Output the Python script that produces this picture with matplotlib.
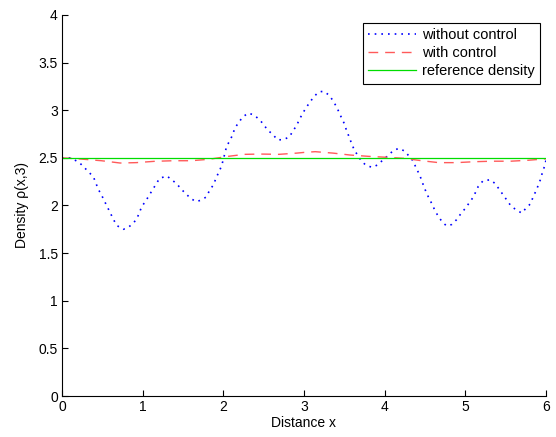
import numpy as np
import matplotlib
matplotlib.use('Agg')
import matplotlib.pyplot as plt

plt.rcParams['font.family'] = ['Liberation Sans', 'DejaVu Sans']

# density without control
x_free = [0.0, 0.1, 0.15, 0.2, 0.24, 0.31, 0.39, 0.45, 0.49, 0.53, 0.6, 0.64, 0.68,
          0.76, 0.82, 0.88, 0.93, 0.99, 1.04, 1.09, 1.17, 1.21, 1.3, 1.36, 1.42,
          1.48, 1.54, 1.6, 1.67, 1.73, 1.79, 1.83, 1.88, 1.91, 1.95, 1.98, 2.02,
          2.04, 2.08, 2.12, 2.14, 2.19, 2.24, 2.31, 2.38, 2.45, 2.5, 2.55, 2.61,
          2.67, 2.74, 2.82, 2.86, 2.91, 2.94, 2.98, 3.02, 3.07, 3.12, 3.18, 3.24,
          3.31, 3.36, 3.4, 3.44, 3.47, 3.5, 3.53, 3.56, 3.59, 3.62, 3.67, 3.71,
          3.77, 3.85, 3.92, 3.98, 4.05, 4.11, 4.18, 4.25, 4.31, 4.36, 4.39, 4.43,
          4.46, 4.49, 4.52, 4.55, 4.6, 4.62, 4.67, 4.72, 4.77, 4.83, 4.89, 4.95,
          5.0, 5.05, 5.1, 5.16, 5.22, 5.31, 5.37, 5.42, 5.47, 5.52, 5.57, 5.64,
          5.7, 5.75, 5.81, 5.84, 5.88, 5.93, 5.96, 5.99, 6.0]
rho_free = [2.5, 2.5, 2.48, 2.46, 2.43, 2.37, 2.3, 2.17, 2.11, 2.04, 1.92, 1.85, 1.79,
            1.75, 1.77, 1.81, 1.865, 1.99, 2.05, 2.12, 2.23, 2.285, 2.31, 2.27, 2.23,
            2.17, 2.12, 2.07, 2.04, 2.06, 2.09, 2.16, 2.22, 2.29, 2.36, 2.42, 2.55,
            2.62, 2.68, 2.75, 2.81, 2.87, 2.93, 2.97, 2.95, 2.9, 2.85, 2.79, 2.75,
            2.69, 2.69, 2.72, 2.78, 2.84, 2.9, 2.96, 3.02, 3.08, 3.14, 3.19, 3.2,
            3.16, 3.1, 3.04, 2.97, 2.91, 2.86, 2.78, 2.72, 2.65, 2.59, 2.52, 2.47,
            2.42, 2.4, 2.43, 2.48, 2.53, 2.58, 2.6, 2.57, 2.51, 2.46, 2.39, 2.33,
            2.26, 2.19, 2.13, 2.075, 1.995, 1.95, 1.88, 1.82, 1.785, 1.8, 1.85, 1.92,
            1.97, 2.03, 2.09, 2.2, 2.26, 2.27, 2.23, 2.17, 2.11, 2.05, 1.99, 1.95,
            1.92, 1.97, 2.02, 2.09, 2.16, 2.27, 2.36, 2.43, 2.48]

# density with control
x_ctrl = [0.0, 0.2, 0.49, 0.72, 0.92, 1.15, 1.38, 1.6, 1.82, 2.06, 2.26, 2.47, 2.69,
          2.91, 3.01, 3.14, 3.36, 3.57, 3.8, 4.03, 4.24, 4.46, 4.67, 4.89, 5.12,
          5.34, 5.56, 5.78, 6.0]
rho_ctrl = [2.5, 2.49, 2.47, 2.446, 2.45, 2.464, 2.47, 2.47, 2.485, 2.516, 2.537, 2.54,
            2.537, 2.55, 2.558, 2.565, 2.55, 2.53, 2.516, 2.506, 2.495, 2.47, 2.45,
            2.45, 2.46, 2.465, 2.465, 2.475, 2.49]

x_ref = [0.0, 6.0]
rho_ref = [2.5, 2.5]

fig = plt.figure(figsize=(5.56, 4.37), dpi=100)
ax = fig.add_axes([0.1115, 0.0938, 0.8705, 0.8719])

ax.plot(x_free, rho_free, color='#0000ff', linestyle=(0, (1, 3)), linewidth=1.2,
        label='without control')
ax.plot(x_ctrl, rho_ctrl, color='#ff5a5a', linestyle=(0, (7, 5)), linewidth=1.0,
        label='with control')
ax.plot(x_ref, rho_ref, color='#00dd00', linewidth=0.9, label='reference density')

ax.set_xlim(0, 6)
ax.set_ylim(0, 4)
ax.set_xticks(np.arange(0, 7, 1))
ax.set_yticks(np.arange(0, 4.5, 0.5))
ax.set_yticklabels(['0', '0.5', '1', '1.5', '2', '2.5', '3', '3.5', '4'])
ax.tick_params(direction='in', length=4, width=0.8, labelsize=10, pad=3)
ax.spines['top'].set_visible(False)
ax.spines['right'].set_visible(False)
ax.set_xlabel('Distance x', fontsize=10, labelpad=1)
ax.set_ylabel('Density ρ(x,3)', fontsize=10, labelpad=7)

leg = ax.legend(loc='upper right', bbox_to_anchor=(0.988, 0.98), fontsize=10.5,
                fancybox=False, framealpha=1, edgecolor='black', handlelength=3.3,
                handletextpad=0.45, borderpad=0.35, labelspacing=0.3, borderaxespad=0)
leg.get_frame().set_linewidth(0.8)

fig.savefig('out.png', dpi=100)
